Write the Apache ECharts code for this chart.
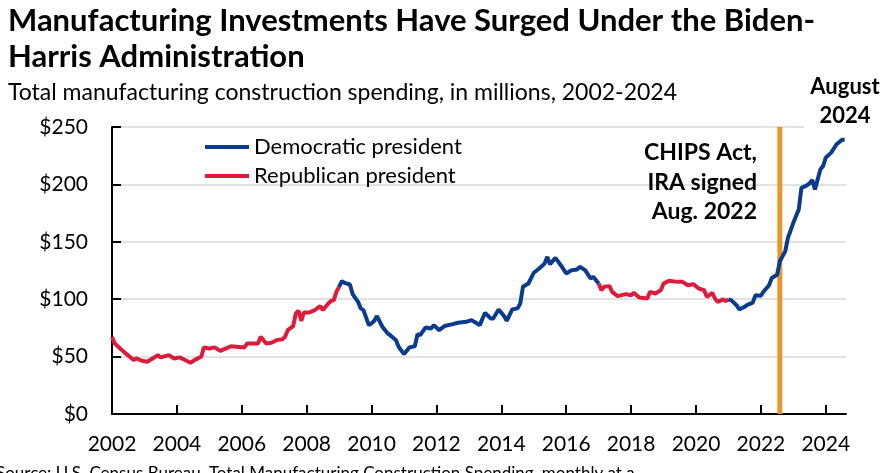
<!DOCTYPE html>
<html>
<head>
<meta charset="utf-8">
<script src="https://cdn.jsdelivr.net/npm/echarts@6/dist/echarts.min.js"></script>
<style>
html, body { margin: 0; padding: 0; background: #fff; }
#box { width: 894px; height: 473px; }
</style>
</head>
<body>
<div id="box"></div>
<script>
// 月份（读图估计，非等间隔采样）
const months = [
  '2002-01','2002-02','2002-04','2002-06','2002-09','2002-10','2002-12',
  '2003-02','2003-04','2003-06','2003-07','2003-10','2003-12',
  '2004-02','2004-04','2004-06','2004-08','2004-10','2004-11',
  '2005-01','2005-03','2005-05','2005-07','2005-09','2005-11',
  '2006-02','2006-03','2006-05','2006-07','2006-08','2006-10','2006-12',
  '2007-02','2007-04','2007-05','2007-06','2007-08','2007-09','2007-10','2007-11','2007-12',
  '2008-02','2008-04','2008-06','2008-07','2008-09','2008-10','2008-11','2008-12',
  '2009-01','2009-02','2009-03','2009-05','2009-06','2009-08','2009-09','2009-10','2009-12',
  '2010-01','2010-02','2010-03','2010-05','2010-07','2010-10','2010-11',
  '2011-01','2011-03','2011-05','2011-06','2011-07','2011-09','2011-11','2011-12',
  '2012-02','2012-04','2012-07','2012-09','2012-12',
  '2013-02','2013-03','2013-05','2013-07','2013-09','2013-10','2013-12',
  '2014-02','2014-03','2014-05','2014-07','2014-08','2014-09','2014-11',
  '2015-01','2015-03','2015-05','2015-06','2015-07','2015-09','2015-11',
  '2016-01','2016-03','2016-05','2016-06','2016-08','2016-10','2016-11',
  '2017-01','2017-02','2017-03','2017-05','2017-06','2017-08','2017-11',
  '2018-01','2018-02','2018-04','2018-07','2018-08','2018-10','2018-12',
  '2019-01','2019-03','2019-06','2019-08','2019-10','2019-12',
  '2020-02','2020-04','2020-05','2020-07','2020-08','2020-09','2020-11','2020-12',
  '2021-01','2021-02','2021-04','2021-05','2021-07','2021-08','2021-10','2021-11',
  '2022-01','2022-02','2022-04','2022-05','2022-07','2022-08','2022-10','2022-11',
  '2023-01','2023-03','2023-04','2023-06','2023-07','2023-08','2023-09','2023-11','2023-12',
  '2024-01','2024-03','2024-05','2024-07','2024-08'
];
// 制造业建筑支出（百万）
const spending = [
  67, 61.5, 57, 53, 47, 48.4, 46.4,
  45.5, 48.4, 51.3, 49.3, 51.3, 48.4,
  49.3, 47, 44.7, 47.6, 49.9, 58,
  57, 58, 55, 57, 59, 58.6,
  58, 61.5, 61.5, 61.5, 67.3, 61.5, 62,
  64.4, 65, 67.3, 73, 76.6, 87.6, 90, 81.2, 88.5,
  88.5, 90.5, 94, 90.5, 96.3, 98.6, 99, 106.4,
  110.8, 115.7, 114.3, 112.8, 104.4, 97.7, 92, 90.5, 77.4,
  78.9, 81.2, 85.3, 76, 70.2, 64.4, 58.6,
  52.2, 58, 59, 69.6, 68.7, 75.4, 74.5, 77.4,
  73, 76.6, 78.3, 79.5, 80.3,
  81.8, 80.3, 77.4, 88.2, 83.2, 83.2, 91,
  85.3, 81.2, 91, 92, 96.3, 110.8, 113.7,
  123, 126.7, 131, 136.9, 130.5, 136, 129.6,
  122.4, 125.3, 125.9, 128.2, 125.3, 118, 119.5,
  113.7, 107.9, 110.8, 111.4, 106.4, 102.7, 104.4,
  103.5, 105.6, 101.5, 100.6, 106.4, 105, 107.9,
  113.7, 116, 115.1, 115.1, 112.2, 113.1,
  109.3, 107.9, 102.1, 105.6, 100.6, 97.7, 99.8, 98.3,
  99.8, 99.2, 94.8, 91, 93.4, 95, 97, 103.5,
  103, 106.7, 112, 118.4, 121.3, 133, 141.7, 153.4,
  166.5, 178.1, 197, 199.1, 200.9, 203.8, 195.6, 213, 216,
  223.3, 227.7, 235, 238.8, 238.8
];
// 总统任期起始月份 -> 党派
const terms = [['2001-01', 'R'], ['2009-01', 'D'], ['2017-01', 'R'], ['2021-01', 'D']];
// x 轴刻度（年份）
const yearTicks = [2002, 2004, 2006, 2008, 2010, 2012, 2014, 2016, 2018, 2020, 2022, 2024];
// CHIPS / IRA 签署月份 和 最后月份
const chipsMonth = '2022-08';
const lastMonth = '2024-08';

/** 'yyyy-mm' -> 小数年份 */
function toYear(m) {
  const p = m.split('-').map(Number);
  return p[0] + (p[1] - 1) / 12;
}
/** 月份所属党派 */
function partyOf(m) {
  let party = terms[0][1];
  terms.forEach((t) => { if (m >= t[0]) party = t[1]; });
  return party;
}

// 按党派拆成两条线，交接点两边都保留，线才能连上
const blueData = [];
const redData = [];
months.forEach((m, i) => {
  const p = partyOf(m);
  const prev = i > 0 ? partyOf(months[i - 1]) : p;
  const x = toYear(m);
  blueData.push([x, (p === 'D' || prev === 'D') ? spending[i] : '-']);
  redData.push([x, (p === 'R' || prev === 'R') ? spending[i] : '-']);
});

const font = 'Lato';
const blue = '#0B3B8C';
const red = '#DD1B3B';
const orange = '#E8952B';
const yMax = 250;

var myChart = echarts.init(document.getElementById('box'));

const option = {
  animation: false,
  textStyle: { fontFamily: font },
  grid: { left: 112, right: 48, top: 127, bottom: 59 },
  legend: {
    orient: 'vertical',
    left: 200,
    top: 131,
    icon: 'rect',
    itemWidth: 44,
    itemHeight: 4,
    itemGap: 7,
    textStyle: { fontSize: 22, color: '#000', fontFamily: font },
    data: ['Democratic president', 'Republican president']
  },
  xAxis: {
    type: 'value',
    min: 2002,
    max: toYear(lastMonth) + 0.04,
    axisLine: { lineStyle: { color: '#000', width: 2 } },
    axisTick: {
      show: true,
      inside: true,
      length: 9,
      lineStyle: { color: '#000', width: 2 },
      customValues: yearTicks.slice(1)
    },
    axisLabel: {
      customValues: yearTicks,
      formatter: (v) => String(v),
      fontSize: 21,
      color: '#000',
      fontFamily: font,
      margin: 20
    },
    splitLine: { show: false }
  },
  yAxis: {
    type: 'value',
    min: 0,
    max: yMax,
    interval: 50,
    axisLine: { show: true, lineStyle: { color: '#000', width: 2 } },
    axisTick: { show: true, inside: true, length: 9, lineStyle: { color: '#000', width: 2 } },
    axisLabel: {
      formatter: (v) => '$' + v,
      fontSize: 21,
      color: '#000',
      fontFamily: font,
      margin: 24
    },
    splitLine: { lineStyle: { color: '#D9D9D9', width: 1.5 } }
  },
  series: [
    {
      // CHIPS 法案竖线，放在最底层
      name: 'chips',
      type: 'line',
      data: [[toYear(chipsMonth), 0], [toYear(chipsMonth), yMax]],
      symbol: 'none',
      silent: true,
      z: 1,
      lineStyle: { color: orange, width: 5 }
    },
    {
      name: 'Republican president',
      type: 'line',
      data: redData,
      symbol: 'none',
      showSymbol: false,
      z: 2,
      lineStyle: { color: red, width: 4 },
      itemStyle: { color: red }
    },
    {
      name: 'Democratic president',
      type: 'line',
      data: blueData,
      symbol: 'none',
      showSymbol: false,
      z: 3,
      lineStyle: { color: blue, width: 4 },
      itemStyle: { color: blue }
    }
  ],
  graphic: [
    { type: 'rect', z: 10, shape: { x: 804, y: 70, width: 90, height: 58 }, style: { fill: '#fff' } },
    { type: 'text', z: 11, style: { text: 'Manufacturing Investments Have Surged Under the Biden-', x: 8, y: 21, fontSize: 31, fontWeight: 'bold', fontFamily: font, fill: '#000', verticalAlign: 'middle' } },
    { type: 'text', z: 11, style: { text: 'Harris Administration', x: 8, y: 57, fontSize: 31, fontWeight: 'bold', fontFamily: font, fill: '#000', verticalAlign: 'middle' } },
    { type: 'text', z: 11, style: { text: 'Total manufacturing construction spending, in millions, 2002-2024', x: 8, y: 93, fontSize: 23, fontFamily: font, fill: '#000', verticalAlign: 'middle' } },
    { type: 'text', z: 11, style: { text: 'August', x: 845, y: 87, fontSize: 22, fontWeight: 'bold', fontFamily: font, fill: '#000', align: 'center', verticalAlign: 'middle' } },
    { type: 'text', z: 11, style: { text: '2024', x: 845, y: 116, fontSize: 22, fontWeight: 'bold', fontFamily: font, fill: '#000', align: 'center', verticalAlign: 'middle' } },
    { type: 'text', z: 11, style: { text: 'CHIPS Act,', x: 757, y: 153, fontSize: 23, fontWeight: 'bold', fontFamily: font, fill: '#000', align: 'right', verticalAlign: 'middle' } },
    { type: 'text', z: 11, style: { text: 'IRA signed', x: 757, y: 183, fontSize: 23, fontWeight: 'bold', fontFamily: font, fill: '#000', align: 'right', verticalAlign: 'middle' } },
    { type: 'text', z: 11, style: { text: 'Aug. 2022', x: 757, y: 212, fontSize: 23, fontWeight: 'bold', fontFamily: font, fill: '#000', align: 'right', verticalAlign: 'middle' } },
    { type: 'text', z: 11, style: { text: 'Source: U.S. Census Bureau, Total Manufacturing Construction Spending, monthly at a', x: -4, y: 474, fontSize: 17, fontFamily: font, fill: '#000', verticalAlign: 'middle' } }
  ]
};

myChart.setOption(option);
</script>
</body>
</html>
